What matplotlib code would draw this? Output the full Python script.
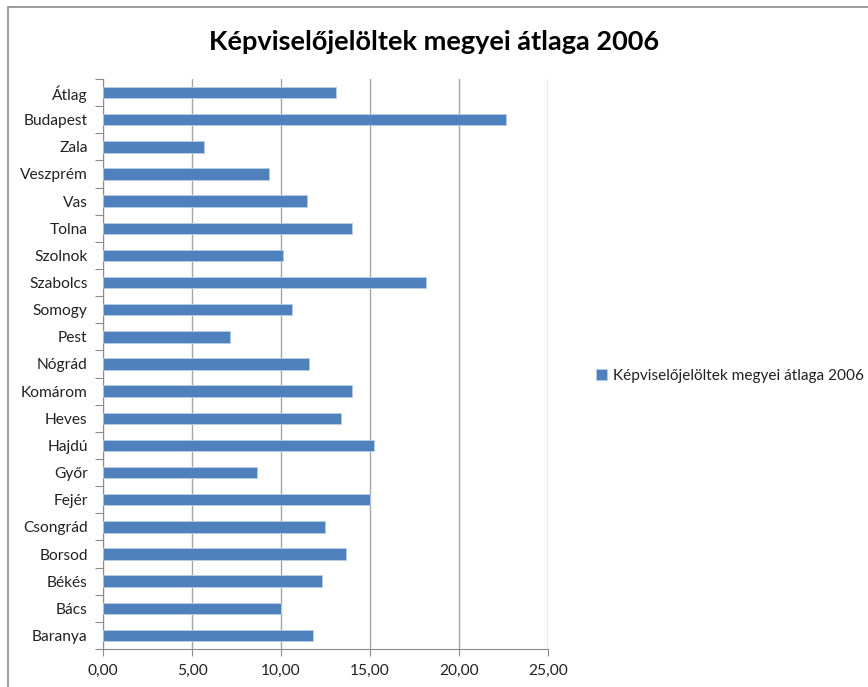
import matplotlib
matplotlib.use("Agg")
import matplotlib.pyplot as plt
from matplotlib.patches import Rectangle
import numpy as np

plt.rcParams['font.family'] = ['Lato', 'DejaVu Sans']

title = "Képviselőjelöltek megyei átlaga 2006"
categories = ["Baranya", "Bács", "Békés", "Borsod", "Csongrád", "Fejér", "Győr",
              "Hajdú", "Heves", "Komárom", "Nógrád", "Pest", "Somogy", "Szabolcs",
              "Szolnok", "Tolna", "Vas", "Veszprém", "Zala", "Budapest", "Átlag"]
values = [11.78, 9.98, 12.32, 13.65, 12.47, 14.98, 8.63,
          15.21, 13.37, 13.97, 11.59, 7.13, 10.64, 18.13,
          10.13, 13.97, 11.46, 9.33, 5.67, 22.64, 13.11]
xticks = [0, 5, 10, 15, 20, 25]
xticklabels = ["0,00", "5,00", "10,00", "15,00", "20,00", "25,00"]

W, H = 868, 687
fig = plt.figure(figsize=(W/100, H/100), dpi=100)

# outer chart frame
fig.patches.append(Rectangle((8/W, -0.1), 1.2, 1 - 7/H + 0.1, transform=fig.transFigure,
                             fill=False, edgecolor='#8c8c8c', lw=1.2))

ax = fig.add_axes([103/W, 1 - 649/H, (548-103)/W, (649-79)/H])
n = len(categories)
y = np.arange(n)
ax.barh(y, values, height=0.42, color='#4f81bd', edgecolor='#b9cde5', lw=0.6, zorder=3,
        label=title)
ax.set_xlim(0, 25)
ax.set_ylim(-0.5, n - 0.5)
ax.set_xticks(xticks)
ax.set_xticklabels(xticklabels, fontsize=11.2, color='#222222')
ax.grid(axis='x', color='#a6a6a6', lw=1, zorder=0)
ax.set_axisbelow(True)

ax.set_yticks(np.arange(n + 1) - 0.5)
ax.set_yticklabels([])
ax.set_yticks(y, minor=True)
ax.set_yticklabels(categories, minor=True, fontsize=11.2, color='#222222')
ax.tick_params(axis='y', which='major', length=6, color='#8c8c8c', direction='out')
ax.tick_params(axis='y', which='minor', length=0, pad=11)
ax.tick_params(axis='x', length=5, color='#8c8c8c', direction='out', pad=6)

for s in ['top', 'right']:
    ax.spines[s].set_visible(False)
for s in ['left', 'bottom']:
    ax.spines[s].set_color('#8c8c8c')

fig.text(434/W, 1 - 42/H, title, ha='center', va='center', fontsize=19.5, fontweight='bold',
         color='#000000')

leg = fig.legend(loc='center left', bbox_to_anchor=(582/W, 1 - 376/H), frameon=False,
                 fontsize=11.1, handlelength=0.7, handleheight=0.7, handletextpad=0.4)
for t in leg.get_texts():
    t.set_color('#222222')

fig.savefig("out.png", dpi=100)
